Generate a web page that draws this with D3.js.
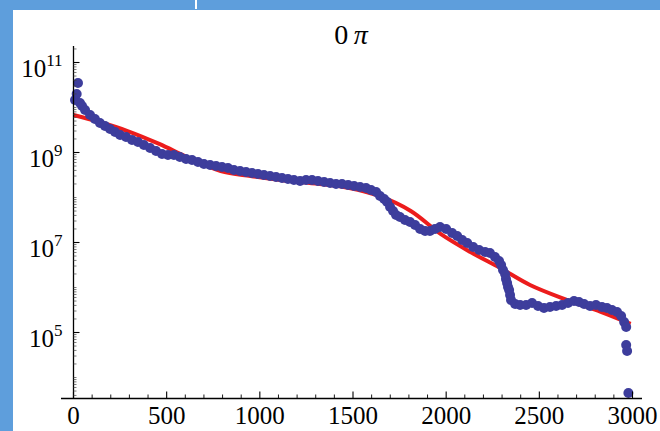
<!DOCTYPE html>
<html>
<head>
<meta charset="utf-8">
<script src="https://cdn.jsdelivr.net/npm/d3@7"></script>
<style>
  body { margin: 0; background: #fff; }
  svg { display: block; }
</style>
</head>
<body>
<div id="chart"></div>
<script>
// Tick values
const xTicks = [0, 500, 1000, 1500, 2000, 2500, 3000];
const yTicks = [1e5, 1e7, 1e9, 1e11];

// Fitted curve (red)
const redX = [0, 140, 290, 460, 620, 790, 950, 1110, 1320, 1480, 1640, 1810, 1970, 2130, 2290, 2450, 2650, 2830, 2990];
const redY = [6.8e9, 4.76e9, 3.0e9, 1.55e9, 7.55e8, 3.88e8, 3.0e8, 2.45e8, 2.0e8, 1.63e8, 1.08e8, 5.0e7, 1.55e7, 6.15e6, 2.71e6, 1.14e6, 5.27e5, 2.86e5, 1.55e5];

// Measured points (blue)
const blueX = [8, 17, 24, 35, 46, 62, 89, 115, 142, 169, 196, 223, 250, 282, 314, 346, 378, 411, 443, 475,
  507, 539, 571, 604, 636, 668, 700, 733, 765, 797, 829, 861, 894, 926, 958, 990, 1022, 1055, 1087, 1119,
  1151, 1183, 1216, 1248, 1280, 1312, 1345, 1377, 1409, 1441, 1474, 1506, 1538, 1570, 1597, 1624, 1645, 1667, 1683, 1699,
  1715, 1731, 1752, 1779, 1806, 1833, 1860, 1887, 1913, 1940, 1967, 2000, 2032, 2059, 2086, 2113, 2145, 2177, 2209, 2235,
  2262, 2284, 2295, 2305, 2316, 2321, 2327, 2332, 2338, 2343, 2348, 2370, 2397, 2429, 2461, 2493, 2525, 2557, 2590, 2622,
  2654, 2686, 2713, 2740, 2772, 2804, 2836, 2863, 2890, 2917, 2939, 2955, 2966, 2966, 2971, 2978];
const blueY = [1.47e10, 2.0e10, 3.5e10, 1.26e10, 1.08e10, 8.8e9, 6.8e9, 5.55e9, 4.53e9, 3.88e9, 3.33e9, 2.86e9, 2.45e9, 2.21e9, 1.9e9, 1.71e9, 1.47e9, 1.26e9, 1.08e9, 9.27e8,
  8.8e8, 8.8e8, 7.94e8, 7.17e8, 6.81e8, 6.15e8, 5.55e8, 5.27e8, 5.0e8, 4.76e8, 4.53e8, 4.08e8, 3.88e8, 3.69e8, 3.5e8, 3.33e8, 3.16e8, 3.0e8, 2.86e8, 2.71e8,
  2.58e8, 2.45e8, 2.33e8, 2.45e8, 2.45e8, 2.33e8, 2.21e8, 2.1e8, 2.0e8, 2.0e8, 1.9e8, 1.8e8, 1.71e8, 1.63e8, 1.47e8, 1.32e8, 1.08e8, 9.27e7, 7.94e7, 6.15e7,
  5.0e7, 4.08e7, 3.69e7, 3.16e7, 2.86e7, 2.45e7, 2.0e7, 1.8e7, 1.8e7, 2.0e7, 2.21e7, 2.0e7, 1.63e7, 1.39e7, 1.14e7, 9.75e6, 7.94e6, 6.81e6, 6.15e6, 5.85e6,
  4.76e6, 3.88e6, 3.16e6, 2.45e6, 2.0e6, 1.55e6, 1.26e6, 1.03e6, 8.8e5, 6.81e5, 5.27e5, 4.3e5, 4.08e5, 4.08e5, 4.53e5, 3.88e5, 3.5e5, 3.69e5, 3.88e5, 4.08e5,
  4.53e5, 5.0e5, 4.76e5, 4.3e5, 3.88e5, 4.08e5, 3.69e5, 3.5e5, 3.16e5, 2.86e5, 2.33e5, 1.71e5, 1.32e5, 5.27e4, 3.88e4, 4.53e3];

const W = 660, H = 431;
const FONT = '"Liberation Serif", "DejaVu Serif", serif';
const FRAME = '#5e9edc';

let svg = d3.select('#chart').append('svg')
  .attr('width', W)
  .attr('height', H);

svg.append('rect').attr('width', W).attr('height', H).attr('fill', '#fff');

// blue frame (slide background)
svg.append('rect').attr('x', 0).attr('y', 0).attr('width', W).attr('height', 10).attr('fill', FRAME);
svg.append('rect').attr('x', 0).attr('y', 0).attr('width', 13).attr('height', H).attr('fill', FRAME);
svg.append('rect').attr('x', 195).attr('y', 0).attr('width', 2).attr('height', 9).attr('fill', '#fff');

// scales
var x = d3.scaleLinear().domain([0, 3000]).range([73.5, 632.5]);
var y = d3.scaleLog().domain([1e5, 1e11]).range([332.5, 62.5]);

var axisY = 398.5, axisX = 73.5;

// fitted line
let redData = redX.map((v, i) => ({x: v, y: redY[i]}));
svg.append('path')
  .datum(redData)
  .attr('fill', 'none')
  .attr('stroke', '#ec1c1c')
  .attr('stroke-width', 4)
  .attr('d', d3.line()
    .curve(d3.curveCatmullRom)
    .x(d => x(d.x))
    .y(d => y(d.y))
  );

// points
let blueData = blueX.map((v, i) => ({x: v, y: blueY[i]}));
svg.append('g')
  .selectAll('circle')
  .data(blueData)
  .enter().append('circle')
  .attr('cx', d => x(d.x))
  .attr('cy', d => y(d.y))
  .attr('r', 5)
  .attr('fill', '#3d3d9c');

// x axis
let gx = svg.append('g').attr('transform', `translate(0,${axisY})`);
gx.append('line').attr('x1', 61).attr('x2', 642).attr('stroke', '#000').attr('stroke-width', 1.3);
gx.selectAll('.minor')
  .data(d3.range(0, 3001, 100).filter(v => v % 500 !== 0))
  .enter().append('line')
  .attr('x1', d => x(d)).attr('x2', d => x(d))
  .attr('y1', 0).attr('y2', -4)
  .attr('stroke', '#000').attr('stroke-width', 0.9);
gx.selectAll('.major')
  .data(xTicks)
  .enter().append('line')
  .attr('x1', d => x(d)).attr('x2', d => x(d))
  .attr('y1', 0).attr('y2', -7)
  .attr('stroke', '#000').attr('stroke-width', 1.1);
gx.selectAll('text')
  .data(xTicks)
  .enter().append('text')
  .attr('x', d => x(d))
  .attr('y', 25)
  .attr('text-anchor', 'middle')
  .style('font-family', FONT)
  .style('font-size', '25px')
  .text(d => d);

// y axis
let gy = svg.append('g').attr('transform', `translate(${axisX},0)`);
gy.append('line').attr('y1', 46).attr('y2', axisY).attr('stroke', '#000').attr('stroke-width', 1.3);

let minorY = [];
for (let k = 3; k <= 11; k++) {
  for (let d = 1; d <= 9; d++) {
    let v = d * Math.pow(10, k);
    if (yTicks.indexOf(v) < 0 && y(v) > 48 && y(v) < axisY - 2) minorY.push(v);
  }
}
gy.selectAll('.minor')
  .data(minorY)
  .enter().append('line')
  .attr('y1', d => y(d)).attr('y2', d => y(d))
  .attr('x1', 0).attr('x2', 3)
  .attr('stroke', '#444').attr('stroke-width', 0.7);
gy.selectAll('.major')
  .data(yTicks)
  .enter().append('line')
  .attr('y1', d => y(d)).attr('y2', d => y(d))
  .attr('x1', 0).attr('x2', 6)
  .attr('stroke', '#000').attr('stroke-width', 1.1);

let ylab = gy.selectAll('text')
  .data(yTicks)
  .enter().append('text')
  .attr('x', -11)
  .attr('y', d => y(d) + 14)
  .attr('text-anchor', 'end')
  .style('font-family', FONT)
  .style('font-size', '25px');
ylab.append('tspan').text('10');
ylab.append('tspan')
  .attr('dy', -11)
  .style('font-size', '17px')
  .text(d => Math.round(Math.log10(d)));

// title
let title = svg.append('text')
  .attr('x', 351)
  .attr('y', 44)
  .attr('text-anchor', 'middle')
  .style('font-family', FONT)
  .style('font-size', '28px');
title.append('tspan').text('0\u2009');
title.append('tspan').style('font-style', 'italic').text('\u03c0');
</script>
</body>
</html>
